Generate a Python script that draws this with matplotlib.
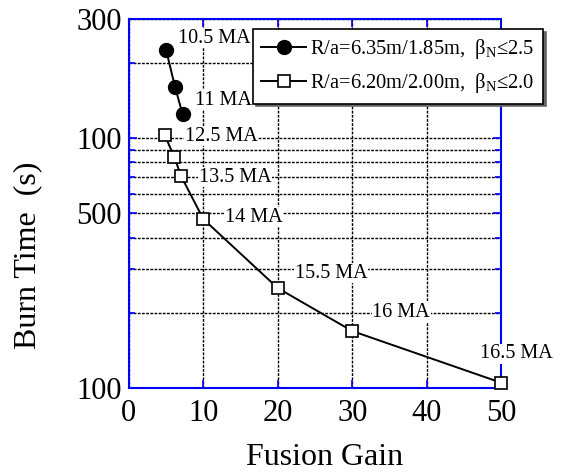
import matplotlib
matplotlib.use('Agg')
import matplotlib.pyplot as plt
from matplotlib.ticker import LogLocator, NullFormatter

plt.rcParams['font.family'] = ['Liberation Serif', 'DejaVu Serif']
plt.rcParams['mathtext.fontset'] = 'custom'
plt.rcParams['mathtext.rm'] = 'Liberation Serif'

# data
gain_a = [5.0, 6.2, 7.2]
burn_a = [2250, 1600, 1250]

gain_b = [4.8, 6.1, 7.0, 10, 20, 30, 50]
burn_b = [1030, 840, 705, 474, 251, 169, 105]

# current labels: (text, x, y)
current_labels = [
    ('10.5 MA', 6.6, 2512),
    ('11 MA', 8.9, 1419),
    ('12.5 MA', 7.5, 1019),
    ('13.5 MA', 9.4, 698),
    ('14 MA', 12.9, 483),
    ('15.5 MA', 22.3, 288),
    ('16 MA', 32.7, 201),
    ('16.5 MA', 47.2, 137),
]

ytick_vals = [100, 500, 1000, 3000]
ytick_text = ['100', '500', '100', '300']
xtick_vals = [0, 10, 20, 30, 40, 50]

fig = plt.figure(figsize=(5.63, 4.72), dpi=100)
ax = fig.add_axes([0.229, 0.178, 0.661, 0.782])

ax.plot(gain_a, burn_a, '-o', color='black', lw=1.4, ms=10,
        mfc='black', mec='black', zorder=5, clip_on=False,
        label=r'R/a=6.35m/1.85m,  β$_{\rm N}$≤2.5')
ax.plot(gain_b, burn_b, '-s', color='black', lw=1.4, ms=9,
        mfc='white', mec='black', mew=1.2, zorder=5, clip_on=False,
        label=r'R/a=6.20m/2.00m,  β$_{\rm N}$≤2.0')

for txt, x, y in current_labels:
    ax.text(x, y, txt, fontsize=14.5, va='center', ha='left', zorder=4,
            bbox=dict(facecolor='white', edgecolor='none', pad=0.5))

ax.set_yscale('log')
ax.set_xlim(0, 50)
ax.set_ylim(100, 3000)
ax.set_xticks(xtick_vals)
ax.set_yticks(ytick_vals)
ax.set_yticklabels(ytick_text)
ax.yaxis.set_minor_locator(LogLocator(base=10, subs=range(2, 10)))
ax.yaxis.set_minor_formatter(NullFormatter())

ax.grid(True, which='both', color='black', linestyle=(0, (2, 1)), lw=1.0)
for s in ax.spines.values():
    s.set_color('blue')
    s.set_linewidth(1.5)
ax.tick_params(which='both', direction='in', color='blue', top=True, right=True,
               labelsize=22)
ax.tick_params(axis='x', pad=8)
ax.tick_params(axis='y', pad=5)
ax.tick_params(which='major', length=6, width=1.2)
ax.tick_params(which='minor', length=4, width=1.2)

ax.set_xlabel('Fusion Gain', fontsize=23)
ax.xaxis.set_label_coords(0.527, -0.148)
ax.set_ylabel('Burn Time  (s)', fontsize=23)
ax.yaxis.set_label_coords(-0.233, 0.36)

leg = ax.legend(loc='upper left', bbox_to_anchor=(0.333, 0.973), borderaxespad=0,
                fontsize=14.8, frameon=True, fancybox=False, edgecolor='black',
                framealpha=1, handlelength=2.2, handletextpad=0.2,
                borderpad=0.4, labelspacing=0.5,
                shadow={'ox': 2, 'oy': -2, 'color': '0.4', 'alpha': 1})
leg.get_frame().set_linewidth(1.2)
leg.set_zorder(10)

fig.savefig('out.png', dpi=100)
